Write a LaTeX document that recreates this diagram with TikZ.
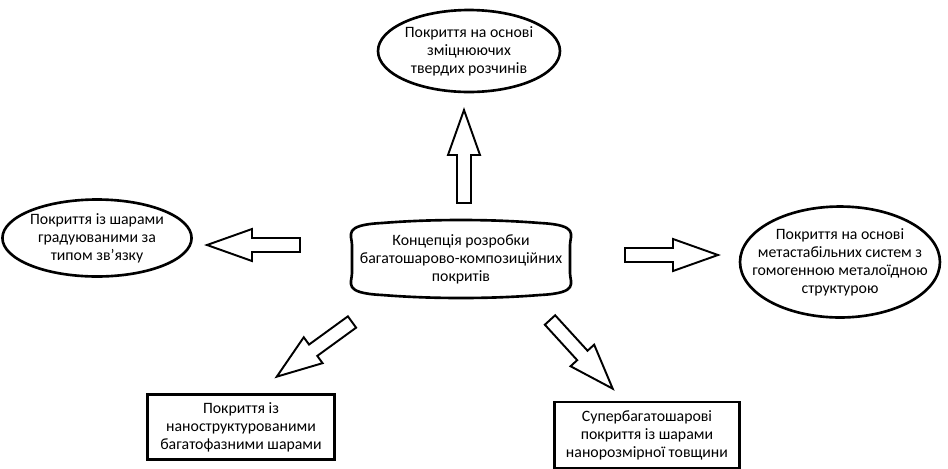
\documentclass[tikz,border=0pt]{standalone}
\usepackage{fontspec}
\setmainfont{Carlito}
\usepackage{tikz}
\usetikzlibrary{shapes.geometric}

% hollow block arrow: start point, angle
\newcommand{\blockarrow}[2]{%
  \draw[arrowline, shift={#1}, rotate=#2]
    (0,-7) -- (48,-7) -- (48,-16) -- (93,0) -- (48,16) -- (48,7) -- (0,7) -- cycle;}

\begin{document}
\begin{tikzpicture}[x=0.02cm, y=-0.02cm,
    every node/.style={align=center, font=\fontsize{9}{10.2}\selectfont, inner sep=0pt},
    oval/.style={draw, ellipse, line width=1.5pt},
    box/.style={draw, rectangle, line width=1.5pt},
    arrowline/.style={draw, line width=1.1pt, line join=miter}]
              \useasboundingbox (0,0) rectangle (948,468);

              % Вузли
              \node (c) at (461,259) {Концепція розробки\\багатошарово-композиційних\\покритів};
              \node[oval, minimum width=3.64cm, minimum height=1.64cm] (top) at (469,51)
                  {Покриття на основі\\зміцнюючих\\твердих розчинів};
              \node[oval, minimum width=3.6cm, minimum height=1.54cm] (left) at (97,238)
                  {Покриття із шарами\\градуюваними за\\типом зв'язку};
              \node[oval, inner xsep=-0.36cm, minimum width=4cm, minimum height=2.22cm] (right) at (840,262)
                  {Покриття на основі\\метастабільних систем з\\гомогенною металоїдною\\структурою};
              \node[box, minimum width=3.74cm, minimum height=1.3cm] (bl) at (241,427)
                  {Покриття із\\наноструктурованими\\багатофазними шарами};
              \node[box, minimum width=3.7cm, minimum height=1.32cm] (br) at (647,435)
                  {Супербагатошарові\\покриття із шарами\\нанорозмірної товщини};

              % Центральна фігура
              \draw[line width=1.5pt] (c.center) ++(-109,-14)
                  .. controls ++(0,-10) and ++(-40,2) .. ++(30,-22)
                  .. controls ++(50,-4) and ++(-50,-4) .. ++(158,0)
                  .. controls ++(40,2) and ++(0,-10) .. ++(30,22)
                  -- ++(0,28)
                  .. controls ++(0,10) and ++(40,-2) .. ++(-30,22)
                  .. controls ++(-50,4) and ++(50,4) .. ++(-158,0)
                  .. controls ++(-40,-2) and ++(0,10) .. ++(-30,-22)
                  -- cycle;

              % Стрілки
              \blockarrow{(464,203)}{90}
              \blockarrow{(300,245)}{180}
              \blockarrow{(625,255)}{0}
              \blockarrow{(352,322)}{216}
              \blockarrow{(550,320)}{-47.6}
            \end{tikzpicture}
\end{document}
